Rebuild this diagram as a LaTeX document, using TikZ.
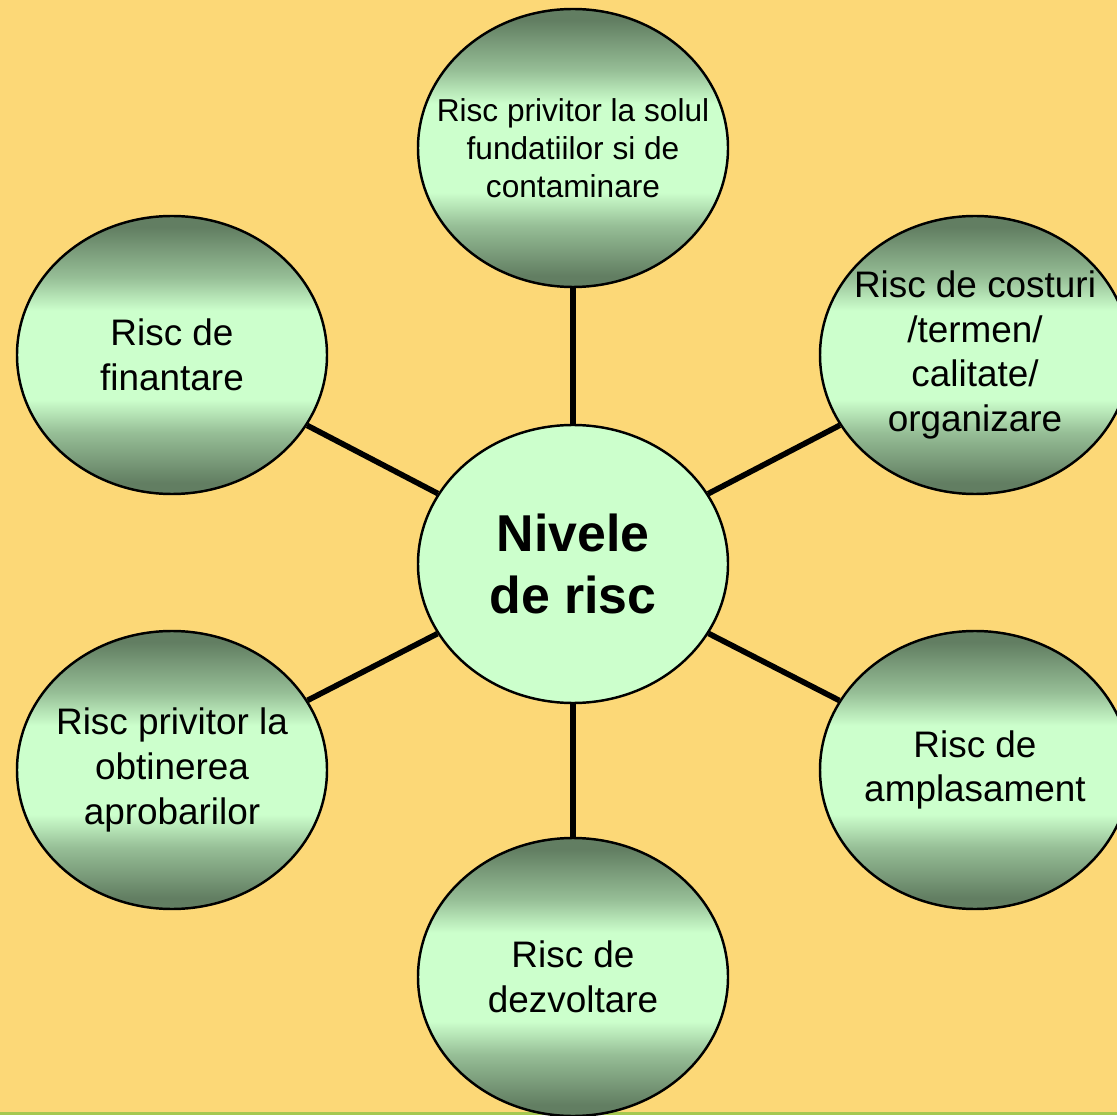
\documentclass[tikz,border=0pt]{standalone}
\usepackage{fontspec}
\setmainfont{Liberation Sans}
\usepackage{xcolor}
\usepackage{tikz}
\usetikzlibrary{shapes.geometric}
\usetikzlibrary{positioning}

\definecolor{fondo}{RGB}{252,216,119}
\definecolor{verdeoscuro}{RGB}{98,126,98}
\definecolor{verdemedio}{RGB}{150,190,150}
\definecolor{verdeclaro}{RGB}{204,255,204}
\definecolor{lineaverde}{RGB}{165,200,80}

\pgfdeclareverticalshading{riscsombra}{100bp}{color(0bp)=(verdeoscuro); color(27bp)=(verdeoscuro); color(36bp)=(verdemedio); color(42bp)=(verdeclaro); color(58bp)=(verdeclaro); color(64bp)=(verdemedio); color(73bp)=(verdeoscuro); color(100bp)=(verdeoscuro)}

\begin{document}
\begin{tikzpicture}[
  forma/.style={ellipse, draw=black, line width=1.4pt,
    minimum width=6.2cm, minimum height=5.56cm, inner sep=0pt},
  riesgo/.style={forma, shade, shading=riscsombra},
  nivel/.style={forma, fill=verdeclaro},
  texto/.style={align=center, font=\fontsize{21}{25.5}\selectfont},
  rama/.style={line width=3.2pt}]

  % Fondo
  \fill[fondo] (0,0) rectangle (22.34,22.30);
  \useasboundingbox (0,0) rectangle (22.34,22.30);
  \draw[lineaverde, line width=1.2pt] (0,0.03) -- (22.34,0.03);

  % Nodo central
  \node[nivel] (centro) at (11.46,11.02) {};
  \node[texto, font=\fontsize{29.5}{35}\selectfont\bfseries] (tcentro) at (centro) {Nivele\\de risc};

  % Nodos de alrededor
  \node[riesgo] (sol) at (11.46,19.34) {};
  \node[riesgo] (finantare) at (3.44,15.20) {};
  \node[riesgo] (costuri) at (19.50,15.20) {};
  \node[riesgo] (aprobari) at (3.44,6.90) {};
  \node[riesgo] (amplasament) at (19.50,6.90) {};
  \node[riesgo] (dezvoltare) at (11.46,2.76) {};

  % Textos
  \node[texto, font=\fontsize{18}{21.5}\selectfont] (tsol) at (sol)
    {Risc privitor la solul\\fundatiilor si de\\contaminare};
  \node[texto] (tfinantare) at (finantare) {Risc de\\finantare};
  \node[texto] (tcosturi) at (costuri) {Risc de costuri\\/termen/\\calitate/\\organizare};
  \node[texto] (taprobari) at (aprobari) {Risc privitor la\\obtinerea\\aprobarilor};
  \node[texto] (tamplasament) at (amplasament) {Risc de\\amplasament};
  \node[texto] (tdezvoltare) at (dezvoltare) {Risc de\\dezvoltare};

  % Conexiones
  \draw[rama] (centro) -- (sol);
  \draw[rama] (centro) -- (finantare);
  \draw[rama] (centro) -- (costuri);
  \draw[rama] (centro) -- (aprobari);
  \draw[rama] (centro) -- (amplasament);
  \draw[rama] (centro) -- (dezvoltare);
\end{tikzpicture}
\end{document}
